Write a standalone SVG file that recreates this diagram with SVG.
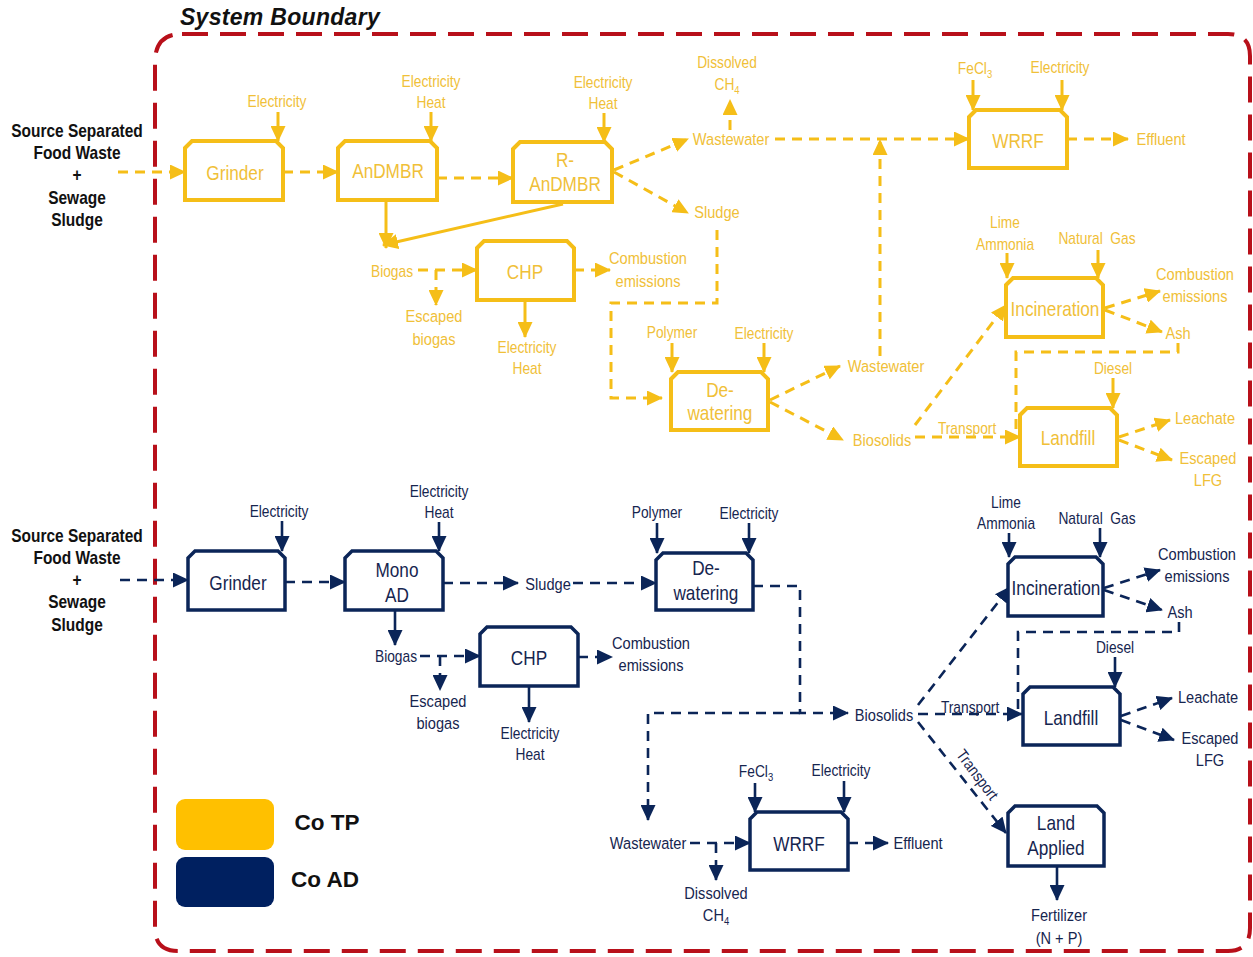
<svg xmlns="http://www.w3.org/2000/svg" width="1253" height="957" viewBox="0 0 1253 957">
  <style>
    text{font-family:"Liberation Sans",Arial,sans-serif;text-anchor:middle}
    .c{transform-box:fill-box;transform-origin:center;transform:scaleX(0.86)}
    .ty{fill:#F0C038}
    .tn{fill:#16254F}
    .s16{font-size:16px}
    .s17{font-size:17px}
    .s20{font-size:20px}
    .lbl{font-size:18px;font-weight:bold;fill:#111}
    .by{fill:#fff;stroke:#F5BE18;stroke-width:4}
    .bn{fill:#fff;stroke:#0B2558;stroke-width:3.5}
    .y{fill:none;stroke:#F5BE18;stroke-width:3}
    .n{fill:none;stroke:#0B2558;stroke-width:2.6}
    .d{stroke-dasharray:10 7}
    .ya{marker-end:url(#ay)}
    .na{marker-end:url(#an)}
  </style>
  <defs>
    <marker id="ay" markerUnits="userSpaceOnUse" markerWidth="17" markerHeight="15" refX="15" refY="7.5" orient="auto">
      <path d="M0,0 L16,7.5 L0,15 Z" fill="#F5BE18"/>
    </marker>
    <marker id="an" markerUnits="userSpaceOnUse" markerWidth="17" markerHeight="15" refX="15" refY="7.5" orient="auto">
      <path d="M0,0 L16,7.5 L0,15 Z" fill="#0B2558"/>
    </marker>
  </defs>

  <rect width="1253" height="957" fill="#fff"/>

  <!-- system boundary -->
  <g id="boundary">
    <path d="M182,34 L1228,34 Q1250,34 1250,56 L1250,928 Q1250,951 1228,951 L178,951 Q155,951 155,928 L155,62 Q155,34 182,34 Z" fill="none" stroke="#B8101A" stroke-width="4" stroke-dasharray="26 12"/>
    <text x="280" y="25" style="font-size:23px;font-weight:900;font-style:italic;fill:#111;letter-spacing:0.3px">System Boundary</text>
  </g>

  <!-- feed labels -->
  <g id="feed-top">
    <text class="lbl c" x="77" y="137">Source Separated</text>
    <text class="lbl c" x="77" y="159">Food Waste</text>
    <text class="lbl c" x="77" y="181">+</text>
    <text class="lbl c" x="77" y="204">Sewage</text>
    <text class="lbl c" x="77" y="226">Sludge</text>
  </g>
  <g id="feed-bottom">
    <text class="lbl c" x="77" y="542">Source Separated</text>
    <text class="lbl c" x="77" y="564">Food Waste</text>
    <text class="lbl c" x="77" y="586">+</text>
    <text class="lbl c" x="77" y="608">Sewage</text>
    <text class="lbl c" x="77" y="631">Sludge</text>
  </g>

  <!-- connectors -->
  <g id="connectors">
    <!-- Co TP -->
    <path class="y d ya" d="M118,172 H185"/>
    <path class="y ya" d="M278,112 V141"/>
    <path class="y d ya" d="M283,172 H338"/>
    <path class="y ya" d="M431,112 V141"/>
    <path class="y d ya" d="M437,178 H513"/>
    <path class="y ya" d="M604,113 V142"/>
    <path class="y d ya" d="M614,170 L688,139"/>
    <path class="y d ya" d="M614,172 L688,213"/>
    <path class="y d ya" d="M730,130 V100"/>
    <path class="y d ya" d="M775,139 H969"/>
    <path class="y d ya" d="M880,356 V140"/>
    <path class="y ya" d="M973,80 V110"/>
    <path class="y ya" d="M1062,80 V110"/>
    <path class="y d ya" d="M1067,139 H1128"/>
    <path class="y ya" d="M386,201 V248"/>
    <path class="y ya" d="M563,204 L383,245"/>
    <path class="y d ya" d="M418,270 H477"/>
    <path class="y d ya" d="M436,270 V305"/>
    <path class="y d ya" d="M574,270 H610"/>
    <path class="y ya" d="M525,300 V337"/>
    <path class="y d ya" d="M717,230 V303 H611 V398 H662"/>
    <path class="y ya" d="M672,343 V372"/>
    <path class="y ya" d="M764,343 V372"/>
    <path class="y d ya" d="M770,400 L840,366"/>
    <path class="y d ya" d="M770,402 L843,440"/>
    <path class="y d ya" d="M915,425 L1006,305"/>
    <path class="y d ya" d="M915,437 H1020"/>
    <path class="y d" d="M1178,343 V352 H1016 V437"/>
    <path class="y ya" d="M1007,253 V278"/>
    <path class="y ya" d="M1098,250 V278"/>
    <path class="y d ya" d="M1105,308 L1160,291"/>
    <path class="y d ya" d="M1105,310 L1162,332"/>
    <path class="y ya" d="M1113,378 V408"/>
    <path class="y d ya" d="M1119,437 L1170,420"/>
    <path class="y d ya" d="M1119,440 L1172,460"/>

    <!-- Co AD -->
    <path class="n d na" d="M120,580 H188"/>
    <path class="n na" d="M282,521 V551"/>
    <path class="n d na" d="M285,582 H345"/>
    <path class="n na" d="M439,522 V551"/>
    <path class="n d na" d="M443,583 H518"/>
    <path class="n d na" d="M573,583 H656"/>
    <path class="n na" d="M657,523 V553"/>
    <path class="n na" d="M749,523 V553"/>
    <path class="n d na" d="M753,586 H800 V713 H848"/>
    <path class="n d na" d="M800,713 H648 V820"/>
    <path class="n d na" d="M918,705 L1010,587"/>
    <path class="n d na" d="M918,714 H1022"/>
    <path class="n d na" d="M918,722 L1006,833"/>
    <path class="n na" d="M1009,533 V557"/>
    <path class="n na" d="M1100,528 V557"/>
    <path class="n d na" d="M1104,588 L1160,570"/>
    <path class="n d na" d="M1104,590 L1162,610"/>
    <path class="n d" d="M1179,622 V632 H1018 V714"/>
    <path class="n na" d="M1115,657 V687"/>
    <path class="n d na" d="M1121,716 L1172,698"/>
    <path class="n d na" d="M1121,720 L1174,740"/>
    <path class="n na" d="M1057,866 V900"/>
    <path class="n d na" d="M690,843 H750"/>
    <path class="n d na" d="M716,843 V880"/>
    <path class="n na" d="M755,783 V812"/>
    <path class="n na" d="M844,781 V812"/>
    <path class="n d na" d="M848,843 H888"/>
    <path class="n na" d="M395,610 V645"/>
    <path class="n d na" d="M420,656 H480"/>
    <path class="n d na" d="M440,656 V690"/>
    <path class="n d na" d="M578,657 H612"/>
    <path class="n na" d="M529,686 V722"/>
  </g>

  <!-- Co TP process units -->
  <g id="tp-grinder">
    <path class="by" d="M185,148 L192,141 H276 L283,148 V200 H185 Z"/>
    <text class="ty s20 c" x="235" y="180">Grinder</text>
  </g>
  <g id="tp-andmbr">
    <path class="by" d="M338,148 L345,141 H430 L437,148 V200 H338 Z"/>
    <text class="ty s20 c" x="388" y="178">AnDMBR</text>
  </g>
  <g id="tp-randmbr">
    <path class="by" d="M513,149 L520,142 H605 L612,149 V202 H513 Z"/>
    <text class="ty s20 c" x="565" y="167">R-</text>
    <text class="ty s20 c" x="565" y="191">AnDMBR</text>
  </g>
  <g id="tp-chp">
    <path class="by" d="M477,248 L484,241 H567 L574,248 V300 H477 Z"/>
    <text class="ty s20 c" x="525" y="279">CHP</text>
  </g>
  <g id="tp-wrrf">
    <path class="by" d="M969,117 L976,110 H1060 L1067,117 V168 H969 Z"/>
    <text class="ty s20 c" x="1018" y="148">WRRF</text>
  </g>
  <g id="tp-incineration">
    <path class="by" d="M1006,285 L1013,278 H1096 L1103,285 V337 H1006 Z"/>
    <text class="ty s20 c" x="1055" y="316">Incineration</text>
  </g>
  <g id="tp-dewatering">
    <path class="by" d="M671,379 L678,372 H761 L768,379 V430 H671 Z"/>
    <text class="ty s20 c" x="720" y="397">De-</text>
    <text class="ty s20 c" x="720" y="420">watering</text>
  </g>
  <g id="tp-landfill">
    <path class="by" d="M1020,415 L1027,408 H1110 L1117,415 V466 H1020 Z"/>
    <text class="ty s20 c" x="1068" y="445">Landfill</text>
  </g>

  <!-- Co TP flow labels -->
  <g id="tp-labels">
    <text class="ty s16 c" x="277" y="107">Electricity</text>
    <text class="ty s16 c" x="431" y="87">Electricity</text>
    <text class="ty s16 c" x="431" y="108">Heat</text>
    <text class="ty s16 c" x="603" y="88">Electricity</text>
    <text class="ty s16 c" x="603" y="109">Heat</text>
    <text class="ty s16 c" x="727" y="68">Dissolved</text>
    <text class="ty s16 c" x="727" y="90">CH<tspan font-size="11" dy="4">4</tspan></text>
    <text class="ty s16 c" x="975" y="74">FeCl<tspan font-size="11" dy="4">3</tspan></text>
    <text class="ty s16 c" x="1060" y="73">Electricity</text>
    <text class="ty s17 c" x="731" y="145">Wastewater</text>
    <text class="ty s17 c" x="1161" y="145">Effluent</text>
    <text class="ty s17 c" x="717" y="218">Sludge</text>
    <text class="ty s16 c" x="392" y="277">Biogas</text>
    <text class="ty s17 c" x="434" y="322">Escaped</text>
    <text class="ty s17 c" x="434" y="345">biogas</text>
    <text class="ty s17 c" x="648" y="264">Combustion</text>
    <text class="ty s17 c" x="648" y="287">emissions</text>
    <text class="ty s16 c" x="527" y="353">Electricity</text>
    <text class="ty s16 c" x="527" y="374">Heat</text>
    <text class="ty s16 c" x="672" y="338">Polymer</text>
    <text class="ty s16 c" x="764" y="339">Electricity</text>
    <text class="ty s17 c" x="886" y="372">Wastewater</text>
    <text class="ty s17 c" x="882" y="446">Biosolids</text>
    <text class="ty s16 c" x="967" y="434">Transport</text>
    <text class="ty s16 c" x="1005" y="228">Lime</text>
    <text class="ty s16 c" x="1005" y="250">Ammonia</text>
    <text class="ty s16 c" x="1097" y="244" xml:space="preserve">Natural  Gas</text>
    <text class="ty s17 c" x="1195" y="280">Combustion</text>
    <text class="ty s17 c" x="1195" y="302">emissions</text>
    <text class="ty s17 c" x="1178" y="339">Ash</text>
    <text class="ty s16 c" x="1113" y="374">Diesel</text>
    <text class="ty s17 c" x="1205" y="424">Leachate</text>
    <text class="ty s17 c" x="1208" y="464">Escaped</text>
    <text class="ty s17 c" x="1208" y="486">LFG</text>
  </g>

  <!-- Co AD process units -->
  <g id="ad-grinder">
    <path class="bn" d="M188,558 L195,551 H278 L285,558 V610 H188 Z"/>
    <text class="tn s20 c" x="238" y="590">Grinder</text>
  </g>
  <g id="ad-monoad">
    <path class="bn" d="M345,558 L352,551 H436 L443,558 V610 H345 Z"/>
    <text class="tn s20 c" x="397" y="577">Mono</text>
    <text class="tn s20 c" x="397" y="602">AD</text>
  </g>
  <g id="ad-dewatering">
    <path class="bn" d="M656,560 L663,553 H746 L753,560 V610 H656 Z"/>
    <text class="tn s20 c" x="706" y="575">De-</text>
    <text class="tn s20 c" x="706" y="600">watering</text>
  </g>
  <g id="ad-chp">
    <path class="bn" d="M480,634 L487,627 H571 L578,634 V686 H480 Z"/>
    <text class="tn s20 c" x="529" y="665">CHP</text>
  </g>
  <g id="ad-incineration">
    <path class="bn" d="M1008,564 L1015,557 H1096 L1103,564 V616 H1008 Z"/>
    <text class="tn s20 c" x="1056" y="595">Incineration</text>
  </g>
  <g id="ad-landfill">
    <path class="bn" d="M1023,694 L1030,687 H1113 L1120,694 V745 H1023 Z"/>
    <text class="tn s20 c" x="1071" y="725">Landfill</text>
  </g>
  <g id="ad-landapplied">
    <path class="bn" d="M1008,813 L1015,806 H1097 L1104,813 V866 H1008 Z"/>
    <text class="tn s20 c" x="1056" y="830">Land</text>
    <text class="tn s20 c" x="1056" y="855">Applied</text>
  </g>
  <g id="ad-wrrf">
    <path class="bn" d="M750,819 L757,812 H841 L848,819 V870 H750 Z"/>
    <text class="tn s20 c" x="799" y="851">WRRF</text>
  </g>

  <!-- Co AD flow labels -->
  <g id="ad-labels">
    <text class="tn s16 c" x="279" y="517">Electricity</text>
    <text class="tn s16 c" x="439" y="497">Electricity</text>
    <text class="tn s16 c" x="439" y="518">Heat</text>
    <text class="tn s17 c" x="548" y="590">Sludge</text>
    <text class="tn s16 c" x="657" y="518">Polymer</text>
    <text class="tn s16 c" x="749" y="519">Electricity</text>
    <text class="tn s16 c" x="396" y="662">Biogas</text>
    <text class="tn s17 c" x="438" y="707">Escaped</text>
    <text class="tn s17 c" x="438" y="729">biogas</text>
    <text class="tn s17 c" x="651" y="649">Combustion</text>
    <text class="tn s17 c" x="651" y="671">emissions</text>
    <text class="tn s16 c" x="530" y="739">Electricity</text>
    <text class="tn s16 c" x="530" y="760">Heat</text>
    <text class="tn s17 c" x="884" y="721">Biosolids</text>
    <text class="tn s16 c" x="970" y="713">Transport</text>
    <text class="tn s16" transform="translate(977,775) rotate(53) scale(0.86,1)" x="0" y="5">Transport</text>
    <text class="tn s16 c" x="1006" y="508">Lime</text>
    <text class="tn s16 c" x="1006" y="529">Ammonia</text>
    <text class="tn s16 c" x="1097" y="524" xml:space="preserve">Natural  Gas</text>
    <text class="tn s17 c" x="1197" y="560">Combustion</text>
    <text class="tn s17 c" x="1197" y="582">emissions</text>
    <text class="tn s17 c" x="1180" y="618">Ash</text>
    <text class="tn s16 c" x="1115" y="653">Diesel</text>
    <text class="tn s17 c" x="1208" y="703">Leachate</text>
    <text class="tn s17 c" x="1210" y="744">Escaped</text>
    <text class="tn s17 c" x="1210" y="766">LFG</text>
    <text class="tn s17 c" x="1059" y="921">Fertilizer</text>
    <text class="tn s17 c" x="1059" y="944">(N + P)</text>
    <text class="tn s17 c" x="648" y="849">Wastewater</text>
    <text class="tn s17 c" x="716" y="899">Dissolved</text>
    <text class="tn s17 c" x="716" y="921">CH<tspan font-size="11" dy="4">4</tspan></text>
    <text class="tn s16 c" x="756" y="777">FeCl<tspan font-size="11" dy="4">3</tspan></text>
    <text class="tn s16 c" x="841" y="776">Electricity</text>
    <text class="tn s17 c" x="918" y="849">Effluent</text>
  </g>

  <!-- legend -->
  <g id="legend">
    <rect x="176" y="799" width="98" height="51" rx="9" fill="#FFC000"/>
    <rect x="176" y="857" width="98" height="50" rx="9" fill="#002060"/>
    <text x="327" y="830" style="font-size:22.5px;font-weight:bold;fill:#111">Co TP</text>
    <text x="325" y="887" style="font-size:22.5px;font-weight:bold;fill:#111">Co AD</text>
  </g>
</svg>
